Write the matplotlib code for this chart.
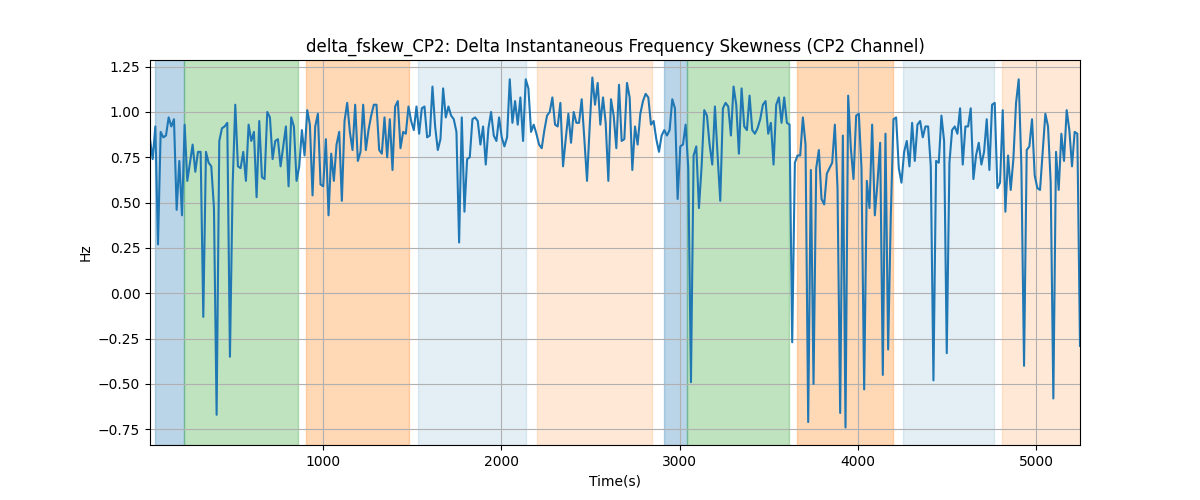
import numpy as np
import matplotlib
matplotlib.use("Agg")
import matplotlib.pyplot as plt

t_start, t_end = 28, 5247

values = [
    # segment 1
    0.85, 0.74, 0.92, 0.27, 0.89, 0.86, 0.87, 0.97, 0.92, 0.96,
    0.46, 0.73, 0.43, 0.93, 0.62, 0.72, 0.82, 0.67, 0.78, 0.78,
    -0.13, 0.78, 0.72, 0.70, 0.47, -0.67, 0.84, 0.91, 0.92, 0.94,
    -0.35, 0.59, 1.04, 0.70, 0.69, 0.78, 0.62, 0.93, 0.84, 0.89,
    0.53, 0.95, 0.64, 0.63, 1.00,
    # segment 2
    0.97, 0.74, 0.84, 0.85, 0.70, 0.81, 0.92, 0.59, 0.97, 0.92,
    0.62, 0.70, 0.90, 0.76, 1.01, 0.93, 0.54, 0.92, 0.99, 0.60,
    0.59, 0.85, 0.43, 0.77, 0.62, 0.82, 0.89, 0.51, 0.95, 1.05,
    0.89, 0.79, 1.04, 0.73, 0.78, 1.04, 0.79, 0.90, 0.98, 1.04,
    1.04, 0.79, 0.77,
    # segment 3
    0.97, 0.75, 0.96, 0.68, 1.03, 1.06, 0.80, 0.89, 0.88, 1.03,
    0.95, 0.90, 1.03, 0.88, 1.02, 1.03, 0.86, 0.87, 1.14, 0.92,
    0.79, 0.85, 1.13, 0.97, 1.03, 0.98, 0.96, 0.89, 0.28, 0.97,
    0.45, 0.74, 0.75, 0.96, 0.97, 0.95, 0.82, 0.92, 0.71, 0.91,
    1.00, 0.87, 0.84,
    # segment 4
    0.97, 0.86, 0.81, 0.86, 1.18, 0.94, 1.06, 0.93, 1.08, 0.84,
    1.18, 1.13, 0.89, 0.93, 0.88, 0.82, 0.80, 0.90, 0.98, 1.00,
    1.08, 0.93, 0.92, 1.05, 0.70, 0.85, 0.99, 0.83, 1.00, 0.94,
    0.94, 1.07, 0.85, 0.62, 0.92, 1.19, 1.04, 1.16, 0.93, 1.08,
    0.94, 0.62, 1.07,
    # segment 5
    0.98, 0.80, 1.15, 0.84, 0.85, 1.16, 1.08, 0.68, 0.92, 0.82,
    0.99, 1.06, 1.10, 1.08, 0.93, 0.95, 0.85, 0.78, 0.87, 0.90,
    0.87, 0.90, 1.07, 1.02, 0.52, 0.81, 0.82, 0.93, 0.69, -0.49,
    0.76, 0.81, 0.47, 0.70, 1.01, 0.98, 0.82, 0.71, 1.03, 0.76,
    0.51, 1.02, 1.05,
    # segment 6
    1.03, 0.87, 1.14, 1.04, 0.77, 1.13, 0.92, 0.90, 1.09, 0.90,
    0.88, 0.91, 0.96, 1.04, 1.06, 0.88, 0.94, 0.71, 1.04, 1.08,
    0.94, 1.08, 0.94, 0.93, -0.27, 0.72, 0.76, 0.76, 0.97, 0.82,
    -0.71, 0.68, -0.50, 0.69, 0.79, 0.52, 0.49, 0.66, 0.69, 0.72,
    0.93, 0.58, -0.66,
    # segment 7
    0.87, -0.74, 1.09, 0.80, 0.63, 0.98, 0.99, 0.69, -0.53, 0.62,
    0.47, 0.93, 0.43, 0.61, 0.83, -0.45, 0.88, -0.31, 0.43, 0.96,
    0.97, 0.69, 0.61, 0.78, 0.84, 0.70, 0.94, 0.73, 0.93, 0.95,
    0.86, 0.92, 0.92, 0.70, -0.48, 0.73, 0.72, 0.98, 0.84, -0.33,
    0.72, 0.90, 0.92,
    # segment 8
    0.88, 1.02, 0.71, 0.92, 0.92, 1.02, 0.63, 0.76, 0.83, 0.71,
    0.78, 0.96, 0.68, 1.04, 1.05, 0.58, 0.61, 1.01, 0.45, 0.76,
    0.57, 0.74, 1.05, 1.18, 0.70, -0.40, 0.79, 0.81, 0.96, 0.65,
    0.58, 0.57, 0.78, 0.99, 0.92, 0.61, -0.58, 0.78, 0.57, 0.88,
    0.73, 1.01, 0.90, 0.70, 0.89, 0.88, -0.29,
]

times = np.linspace(t_start, t_end, len(values))

span_starts = [56, 217, 904, 1534, 2197, 2910, 3041, 3657, 4253, 4809]
span_ends = [217, 859, 1483, 2140, 2846, 3041, 3612, 4200, 4764, 5300]
span_colors = ["tab:blue", "tab:green", "tab:orange", "tab:blue", "tab:orange",
               "tab:blue", "tab:green", "tab:orange", "tab:blue", "tab:orange"]
span_alphas = [0.3, 0.3, 0.3, 0.12, 0.17, 0.3, 0.3, 0.3, 0.12, 0.17]

fig, ax = plt.subplots(figsize=(12, 5), dpi=100)
for s, e, c, a in zip(span_starts, span_ends, span_colors, span_alphas):
    ax.axvspan(s, e, color=c, alpha=a)
ax.plot(times, values, color="tab:blue", linewidth=1.5)
ax.set_xlim(times[0], times[-1])
ax.grid(True)
ax.set_title("delta_fskew_CP2: Delta Instantaneous Frequency Skewness (CP2 Channel)")
ax.set_xlabel("Time(s)")
ax.set_ylabel("Hz")
fig.savefig("out.png")
